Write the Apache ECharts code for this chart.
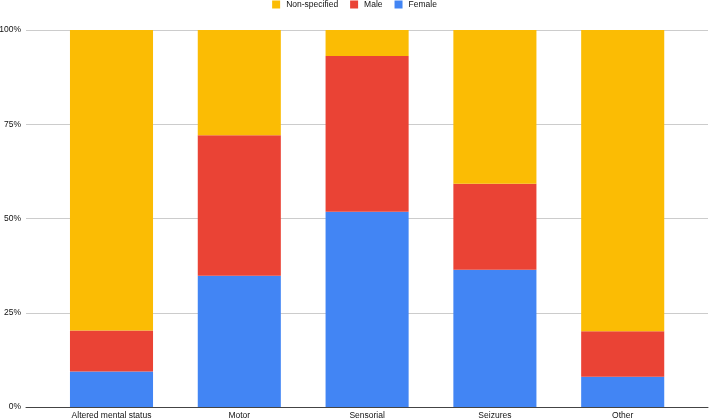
<!DOCTYPE html>
<html>
<head>
<meta charset="utf-8">
<script src="https://cdn.jsdelivr.net/npm/echarts@6/dist/echarts.min.js"></script>
<style>html,body{margin:0;padding:0;background:#fff}#c{width:709px;height:419px}</style>
</head>
<body>
<div id="c"></div>
<script>
const categories = ['Altered mental status', 'Motor', 'Sensorial', 'Seizures', 'Other'];
const female = [9.4, 34.8, 51.8, 36.4, 8.0];
const male = [10.9, 37.3, 41.3, 22.8, 12.1];
const nonSpecified = [79.7, 27.9, 6.9, 40.8, 79.9];
const yTicks = ['0%', '25%', '50%', '75%', '100%'];

const chart = echarts.init(document.getElementById('c'));
const font = 'Liberation Sans, Arial, sans-serif';
const fs = 8.5;
const mk = (name, data, color) => ({
  name, type: 'bar', stack: 'total', data, xAxisIndex: 0, yAxisIndex: 0,
  barCategoryGap: '35%', itemStyle: { color }, emphasis: { disabled: true }
});
chart.setOption({
  animation: false,
  legend: {
    data: ['Non-specified', 'Male', 'Female'],
    top: 0, left: 'center', padding: 0, itemWidth: 8, itemHeight: 8, itemGap: 12, icon: 'rect',
    textStyle: { fontFamily: font, fontSize: fs, color: '#111', padding: [0, 0, 0, 1] }
  },
  grid: [
    { left: 47.6, right: 22.4, top: 30, bottom: 12, outerBoundsMode: 'none', containLabel: false },
    { left: 26, right: 1, top: 30, bottom: 12, outerBoundsMode: 'none', containLabel: false }
  ],
  xAxis: [
    { type: 'category', gridIndex: 0, data: categories,
      axisLine: { show: false }, axisTick: { show: false },
      axisLabel: { margin: 4, fontFamily: font, fontSize: fs, color: '#111', interval: 0 } },
    { type: 'value', gridIndex: 1, show: true, min: 0, max: 1,
      axisLine: { show: true, onZero: false, lineStyle: { color: '#444', width: 1 } },
      axisTick: { show: false }, axisLabel: { show: false }, splitLine: { show: false } }
  ],
  yAxis: [
    { type: 'value', gridIndex: 0, min: 0, max: 100, interval: 25, show: false, splitLine: { show: false } },
    { type: 'value', gridIndex: 1, min: 0, max: 100, interval: 25,
      axisLine: { show: false }, axisTick: { show: false },
      axisLabel: { margin: 5, fontFamily: font, fontSize: fs, color: '#111',
        formatter: v => yTicks[Math.round(v / 25)] },
      splitLine: { show: true, lineStyle: { color: '#ccc', width: 1 } } }
  ],
  series: [
    mk('Female', female, '#4285F4'),
    mk('Male', male, '#EA4335'),
    mk('Non-specified', nonSpecified, '#FBBC04')
  ]
});
</script>
</body>
</html>
